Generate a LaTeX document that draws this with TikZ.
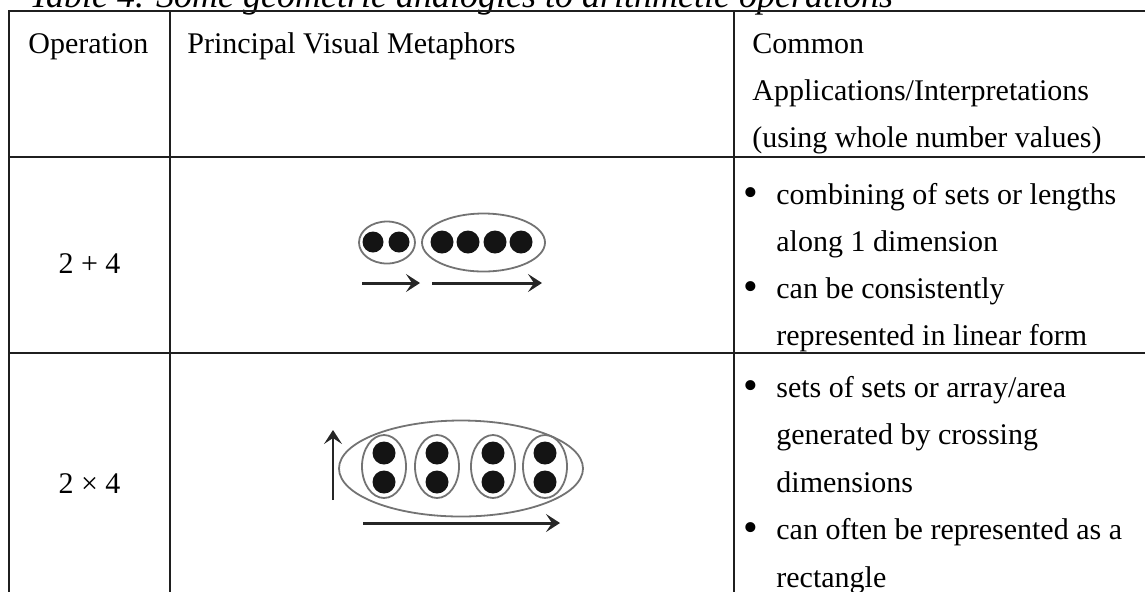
\documentclass[tikz,border=0pt]{standalone}
\usepackage{fontspec}
\setmainfont{Liberation Serif}
\usepackage{tikz}
\usetikzlibrary{arrows.meta}
\usetikzlibrary{positioning}

\begin{document}
\begin{tikzpicture}[
     x=0.5pt, y=-0.5pt,
     celltext/.style={anchor=base west, inner sep=0pt, font=\fontsize{15}{18}\selectfont},
     opcell/.style={anchor=base, inner sep=0pt, font=\fontsize{15}{18}\selectfont},
     bulletmark/.style={anchor=base, inner sep=0pt, font=\fontsize{21}{18}\selectfont},
     tablerule/.style={line width=1pt, color=black!88},
     setring/.style={draw=black!55, line width=0.9pt},
     dot/.style={fill=black!92},
     shaft/.style={line width=1.5pt, color=black!85, -{Stealth[length=7pt,width=9pt,inset=3pt]}}
 ]
 \useasboundingbox (0,0) rectangle (1145,591);
 \clip (0,0) rectangle (1145,591);

 % caption, its top is cut off by the page
 \node[celltext, font=\fontsize{18}{20}\selectfont\itshape] (caption) at (29,7) {Table 4. Some geometric analogies to arithmetic operations};

 % rules of the table (the right and bottom edge lie outside the page)
 \draw[tablerule] (8.5,600) -- (8.5,11) -- (1150,11);
 \draw[tablerule] (170,11) -- (170,600);
 \draw[tablerule] (734,11) -- (734,600);
 \draw[tablerule] (8.5,157) -- (1150,157);
 \draw[tablerule] (8.5,353) -- (1150,353);

 % header row
 \node[celltext] (hdop) at (28,53) {Operation};
 \node[celltext] (hdvis) at (187,53) {Principal Visual Metaphors};
 \foreach \txt [count=\i from 0] in {{Common}, {Applications/Interpretations}, {(using whole number values)}} {
     \node[celltext] (hdapp\i) at (752,{53+47*\i}) {\txt};
 }

 % row 2 + 4
 \node[opcell] (opadd) at (89.5,273) {2 + 4};
 \foreach \txt [count=\i from 0] in {{combining of sets or lengths}, {along 1 dimension}, {can be consistently}, {represented in linear form}} {
     \node[celltext] (add\i) at (776,{204+47*\i}) {\txt};
 }
 \foreach \i in {0,2} {
     \node[bulletmark] (addb\i) at (751,{206+47*\i}) {\textbullet};
 }
 % sets of 2 and 4 in a line
 \draw[setring] (387,242.5) ellipse [x radius=28, y radius=21];
 \foreach \x in {373,399} \fill[dot] (\x,242) circle [radius=10.5];
 \draw[setring] (483.5,242.5) ellipse [x radius=61.5, y radius=29];
 \foreach \x in {442,468,495,521} \fill[dot] (\x,242) circle [radius=11.5];
 \draw[shaft] (362,283) -- (420,283);
 \draw[shaft] (432,283) -- (542,283);

 % row 2 x 4
 \node[opcell] (opmul) at (89.5,493) {2 × 4};
 \foreach \txt [count=\i from 0] in {{sets of sets or array/area}, {generated by crossing}, {dimensions}, {can often be represented as a}, {rectangle}} {
     \node[celltext] (mul\i) at (776,{397+47.5*\i}) {\txt};
 }
 \foreach \i in {0,3} {
     \node[bulletmark] (mulb\i) at (751,{399+47.5*\i}) {\textbullet};
 }
 % four sets of 2 inside one set
 \draw[setring] (461,468.5) ellipse [x radius=122, y radius=48];
 \foreach \x in {384,437,493,545} {
     \draw[setring] (\x,466.5) ellipse [x radius=22, y radius=31.5];
     \fill[dot] (\x,453) circle [radius=11.5];
     \fill[dot] (\x,482) circle [radius=11.5];
 }
 \draw[shaft, line width=1pt] (333,500) -- (333,430);
 \draw[shaft] (363,523) -- (560,523);
\end{tikzpicture}
\end{document}
